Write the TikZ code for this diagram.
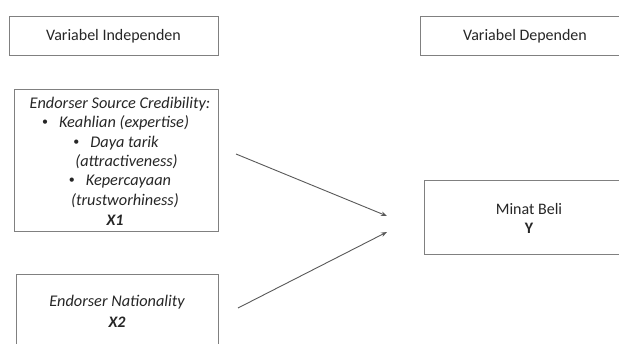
\documentclass[tikz,border=0pt]{standalone}
\usepackage{fontspec}
\setmainfont{Carlito}
\usetikzlibrary{arrows.meta}
\newcommand{\mybul}{\raisebox{0.12em}{\fontsize{12}{12}\selectfont\upshape•}\hspace{11pt}}
\begin{document}
\begin{tikzpicture}[x=1pt,y=-1pt,
  box/.style={draw=black!50, line width=0.9pt, fill=white, inner sep=0pt},
  txt/.style={inner sep=0pt, font=\fontsize{16}{19}\selectfont, text=black!85},
  itx/.style={txt, font=\fontsize{16.3}{19}\selectfont\itshape},
  conn/.style={draw=black!65, line width=0.9pt, -{Stealth[length=6pt,width=4.5pt]}}]
\useasboundingbox (0,0) rectangle (619,343);
\clip (0,0) rectangle (619,343);
\fill[white] (0,0) rectangle (619,343);
% boxes
\node[box, minimum width=209pt, minimum height=39pt] (indep) at (113.5,35.5) {};
\node[txt] (indepT) at (113.5,36) {Variabel Independen};
\node[box, minimum width=210pt, minimum height=39pt] (dep) at (525,35.5) {};
\node[txt] (depT) at (525,36) {Variabel Dependen};
\node[box, minimum width=204pt, minimum height=142pt] (x1) at (116,160.5) {};
\node[box, minimum width=202pt, minimum height=76pt] (x2) at (117,312) {};
\node[box, minimum width=210pt, minimum height=74pt] (y) at (529,217) {};
% X1 text
\node[itx] (l1) at (120,104) {Endorser Source Credibility:};
\node[itx] (l2) at (115.5,123) {\mybul Keahlian (expertise)};
\node[itx] (l3) at (116,143) {\mybul Daya tarik};
\node[itx] (l4) at (126.5,162) {(attractiveness)};
\node[itx] (l5) at (120,181.5) {\mybul Kepercayaan};
\node[itx] (l6) at (125,201) {(trustworhiness)};
\node[itx, font=\fontsize{16}{19}\selectfont\bfseries\itshape] (l7) at (115,220) {X1};
% X2 text
\node[itx] (m1) at (117,302) {Endorser Nationality};
\node[itx, font=\fontsize{16}{19}\selectfont\bfseries\itshape] (m2) at (117,322) {X2};
% Y text
\node[txt] (y1) at (529,209) {Minat Beli};
\node[txt, font=\fontsize{16}{19}\selectfont\bfseries] (y2) at (529,228) {Y};
% connectors
\coordinate (a1s) at (236,154);
\coordinate (a1e) at (387,216);
\coordinate (a2s) at (238,308);
\coordinate (a2e) at (387,232);
\draw[conn] (a1s) -- (a1e);
\draw[conn] (a2s) -- (a2e);
\end{tikzpicture}
\end{document}
